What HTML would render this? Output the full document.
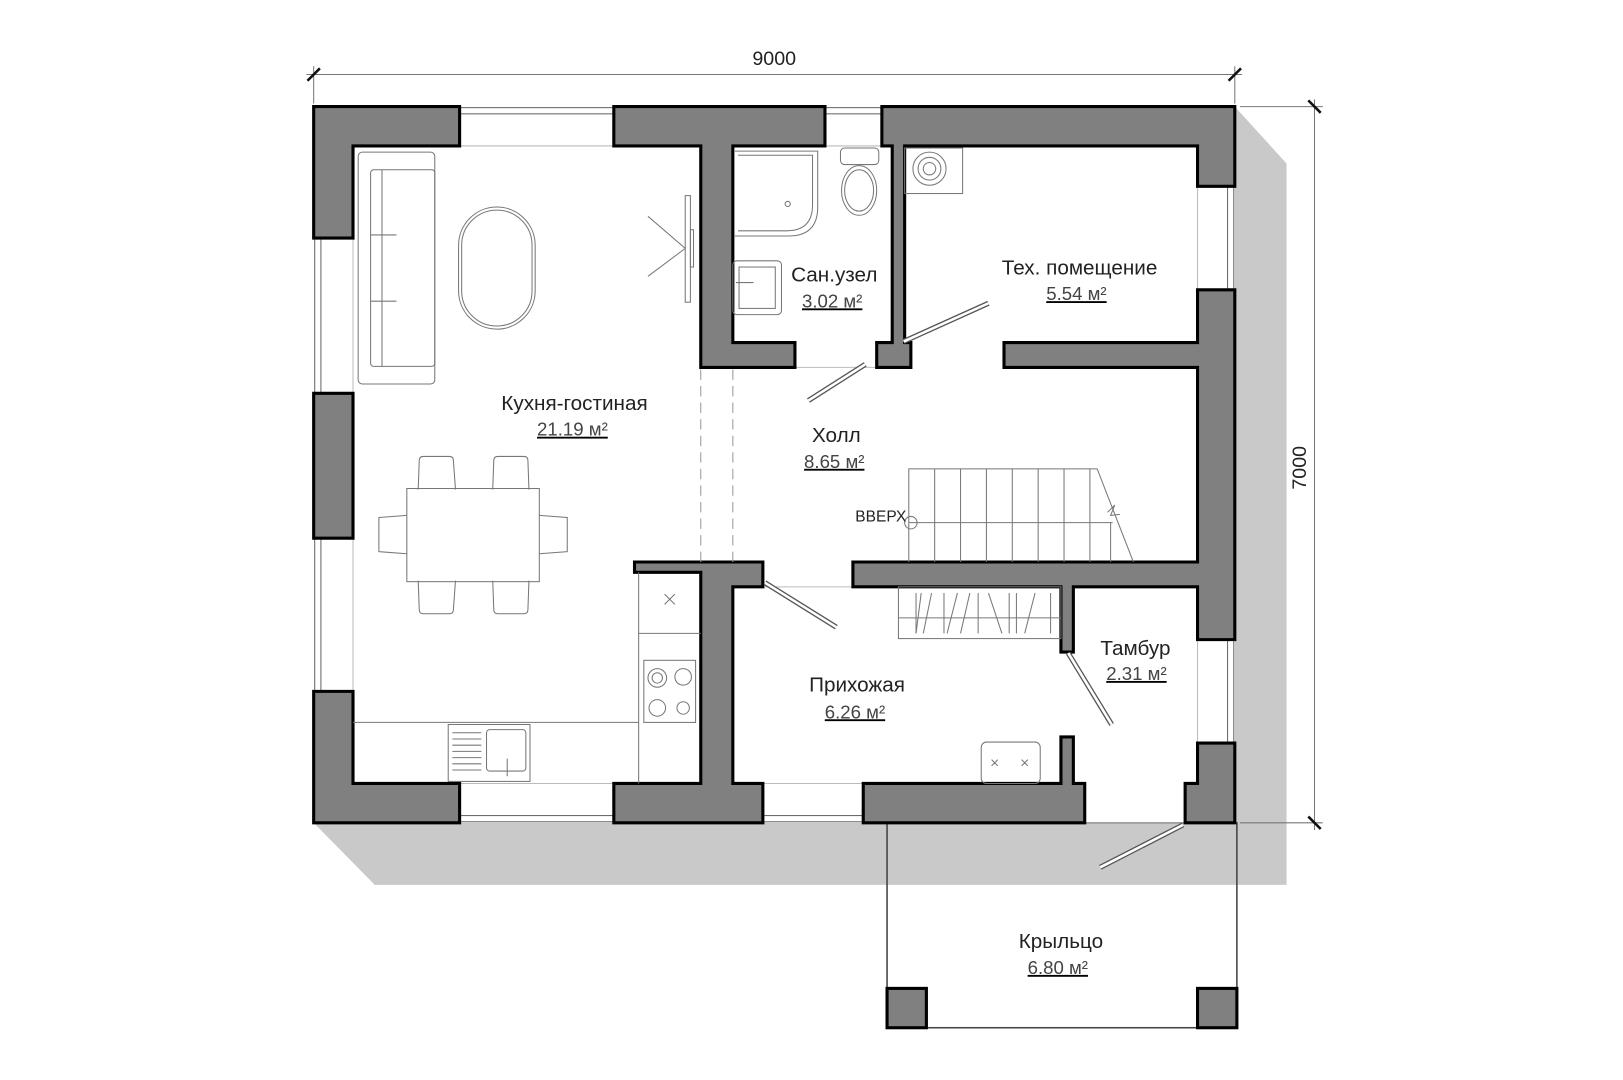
<!DOCTYPE html>
<html><head><meta charset="utf-8"><style>html,body{margin:0;padding:0;background:#fff}svg{display:block}text{font-family:"Liberation Sans",sans-serif;fill:#222}</style></head><body>
<svg width="1623" height="1080" viewBox="0 0 1568 1043.5" xmlns="http://www.w3.org/2000/svg">
<rect width="1568" height="1044" fill="#fff"/>
<polygon points="1193,103 1243,158 1243,855 362,855 303,795" fill="#c9c9c9"/>
<rect x="303" y="103" width="890" height="692" fill="#fff"/>
<rect x="857" y="795" width="338" height="198" fill="none" stroke="#444" stroke-width="1.5"/>
<g stroke="#777" stroke-width="1" fill="none">
<line x1="296" y1="72" x2="1200" y2="72"/>
<line x1="303" y1="64" x2="303" y2="100"/>
<line x1="1193" y1="64" x2="1193" y2="100"/>
<line x1="1270" y1="96" x2="1270" y2="802"/>
<line x1="1198" y1="103" x2="1278" y2="103"/>
<line x1="1198" y1="795" x2="1278" y2="795"/>
</g>
<g stroke="#111" stroke-width="2.5">
<line x1="297" y1="78" x2="309" y2="66"/><line x1="1187" y1="78" x2="1199" y2="66"/>
<line x1="1264" y1="97" x2="1276" y2="109"/><line x1="1264" y1="789" x2="1276" y2="801"/>
</g>
<text x="748" y="63" font-size="19" text-anchor="middle">9000</text>
<text x="0" y="0" font-size="19" text-anchor="middle" transform="translate(1262,452) rotate(-90)">7000</text>
<g stroke="#666" stroke-width="1" fill="#fff">
<rect x="444" y="104" width="149" height="6"/><rect x="797" y="104" width="55" height="6"/>
<rect x="444" y="788" width="149" height="6"/><rect x="737" y="788" width="97" height="6"/>
<rect x="304" y="230" width="6" height="150"/><rect x="304" y="520" width="6" height="148"/>
<rect x="1186" y="180" width="6" height="100"/><rect x="1186" y="618" width="6" height="100"/>
</g>
<g stroke="#bbb" stroke-width="1">
<line x1="444" y1="141" x2="593" y2="141"/><line x1="797" y1="141" x2="852" y2="141"/>
<line x1="444" y1="757" x2="593" y2="757"/><line x1="737" y1="757" x2="834" y2="757"/>
<line x1="341" y1="230" x2="341" y2="380"/><line x1="341" y1="520" x2="341" y2="668"/>
<line x1="1157" y1="180" x2="1157" y2="280"/><line x1="1157" y1="618" x2="1157" y2="718"/>
<line x1="708" y1="355" x2="847" y2="355"/><line x1="737" y1="567" x2="824" y2="567"/>
<line x1="1048" y1="795" x2="1145" y2="795"/>
</g>
<g fill="#808080" stroke="#000" stroke-width="3" stroke-linejoin="miter">
<polygon points="303,103 444,103 444,141 341,141 341,230 303,230"/>
<polygon points="593,103 797,103 797,141 708,141 708,331 768,331 768,355 677,355 677,141 593,141"/>
<polygon points="852,103 1193,103 1193,180 1157,180 1157,141 874,141 874,331 880,331 880,355 847,355 847,331 862,331 862,141 852,141"/>
<polygon points="1157,280 1193,280 1193,618 1157,618 1157,567 1037,567 1037,630 1025,630 1025,567 824,567 824,543 1157,543 1157,355 970,355 970,331 1157,331"/>
<polygon points="1157,718 1193,718 1193,795 1145,795 1145,757 1157,757"/>
<polygon points="303,380 341,380 341,520 303,520"/>
<polygon points="303,668 341,668 341,757 444,757 444,795 303,795"/>
<polygon points="613,543 737,543 737,567 708,567 708,757 737,757 737,795 593,795 593,757 677,757 677,553 613,553"/>
<polygon points="834,757 1025,757 1025,712 1037,712 1037,757 1048,757 1048,795 834,795"/>
<rect x="857" y="955" width="38" height="38"/><rect x="1157" y="955" width="38" height="38"/>
</g>
<g stroke="#999" stroke-width="1" stroke-dasharray="10,6"><line x1="677" y1="357" x2="677" y2="543"/><line x1="708" y1="357" x2="708" y2="543"/></g>
<g fill="none" stroke="#777" stroke-width="1">
<rect x="346" y="147" width="74" height="224" rx="4"/>
<rect x="358" y="164" width="62" height="190" rx="3"/>
<line x1="369" y1="164" x2="369" y2="354"/>
<line x1="358" y1="227" x2="383" y2="227"/><line x1="358" y1="291" x2="383" y2="291"/>
<rect x="443" y="200" width="74" height="118" rx="37"/><rect x="446" y="203" width="68" height="112" rx="34"/>
<rect x="662" y="189" width="5" height="103"/><rect x="667" y="222" width="3" height="36"/>
<line x1="626" y1="209" x2="662" y2="240"/><line x1="626" y1="267" x2="662" y2="240"/>
<rect x="393" y="472" width="128" height="90"/>
<path d="M404 473 L405 445 Q405 441 409 441 L434 441 Q438 441 438 445 L440 473"/>
<path d="M476 473 L477 445 Q477 441 481 441 L506 441 Q510 441 510 445 L511 473"/>
<path d="M404 561 L405 589 Q405 593 409 593 L434 593 Q438 593 438 589 L440 561"/>
<path d="M476 561 L477 589 Q477 593 481 593 L506 593 Q510 593 510 589 L511 561"/>
<path d="M393 498 L366 500 L366 533 L393 535"/>
<path d="M521 498 L548 500 L548 533 L521 535"/>
<line x1="341" y1="698" x2="617" y2="698"/><line x1="617" y1="553" x2="617" y2="757"/>
<line x1="617" y1="612" x2="677" y2="612"/>
<path d="M642 574 L652 584 M652 574 L642 584"/>
<rect x="622" y="638" width="50" height="60"/>
<circle cx="635" cy="655" r="9"/><circle cx="635" cy="655" r="5"/><circle cx="660" cy="654" r="8"/>
<circle cx="635" cy="684" r="8"/><circle cx="660" cy="684" r="6"/>
<rect x="433" y="700" width="79" height="55"/><rect x="470" y="705" width="38" height="40" rx="3"/>
<line x1="437" y1="708" x2="465" y2="708"/><line x1="437" y1="714" x2="465" y2="714"/><line x1="437" y1="720" x2="465" y2="720"/><line x1="437" y1="726" x2="465" y2="726"/><line x1="437" y1="732" x2="465" y2="732"/><line x1="437" y1="738" x2="465" y2="738"/><line x1="437" y1="744" x2="465" y2="744"/>
<line x1="490" y1="733" x2="490" y2="750"/>
<path d="M710 146 L790 146 L790 200 Q790 228 762 228 L710 228"/>
<path d="M713 150 L785 150 L785 198 Q785 223 760 223 L713 223"/>
<circle cx="761" cy="197" r="2.5"/>
<rect x="812" y="143" width="37" height="16" rx="4"/>
<ellipse cx="830" cy="184" rx="17" ry="24"/><ellipse cx="830" cy="184" rx="14" ry="20"/>
<rect x="708" y="252" width="47" height="52" rx="4"/><rect x="714" y="258" width="35" height="40"/>
<line x1="711" y1="273" x2="728" y2="273"/>
<rect x="874" y="143" width="56" height="44"/>
<circle cx="898" cy="163" r="16"/><circle cx="898" cy="163" r="11"/><circle cx="898" cy="163" r="6"/>
<path d="M878 543 L878 453 L1060 453 L1095 543"/>
<line x1="878" y1="505" x2="1075" y2="505"/>
<line x1="903" y1="453" x2="903" y2="543"/><line x1="928" y1="453" x2="928" y2="543"/><line x1="953" y1="453" x2="953" y2="543"/><line x1="978" y1="453" x2="978" y2="543"/><line x1="1003" y1="453" x2="1003" y2="543"/><line x1="1028" y1="453" x2="1028" y2="543"/><line x1="1053" y1="453" x2="1053" y2="543"/><line x1="1073" y1="505" x2="1073" y2="543"/>
<path d="M1070 495 L1077 488 L1073 498 L1082 497"/>
<circle cx="880" cy="505" r="6"/>
<rect x="868" y="567" width="157" height="50"/>
<line x1="868" y1="597" x2="1025" y2="597"/>
<line x1="885" y1="573" x2="885" y2="612"/><line x1="890" y1="573" x2="885" y2="612"/><line x1="900" y1="573" x2="892" y2="612"/><line x1="912" y1="573" x2="912" y2="612"/><line x1="925" y1="573" x2="915" y2="612"/><line x1="937" y1="573" x2="928" y2="612"/><line x1="945" y1="573" x2="945" y2="612"/><line x1="955" y1="573" x2="968" y2="612"/><line x1="975" y1="573" x2="975" y2="612"/><line x1="982" y1="573" x2="982" y2="612"/><line x1="1000" y1="573" x2="990" y2="612"/><line x1="1015" y1="573" x2="1015" y2="612"/>
<rect x="948" y="717" width="57" height="40" rx="5"/>
<path d="M958 734 L964 740 M964 734 L958 740 M987 734 L993 740 M993 734 L987 740"/>
</g>
<g stroke="#555" stroke-width="5" stroke-linecap="butt"><line x1="836" y1="352" x2="781" y2="387"/><line x1="873" y1="330" x2="955" y2="293"/><line x1="739" y1="563" x2="808" y2="606"/><line x1="1032" y1="631" x2="1074" y2="700"/><line x1="1143" y1="797" x2="1063" y2="838"/></g>
<g stroke="#fff" stroke-width="2.5"><line x1="836" y1="352" x2="781" y2="387"/><line x1="873" y1="330" x2="955" y2="293"/><line x1="739" y1="563" x2="808" y2="606"/><line x1="1032" y1="631" x2="1074" y2="700"/><line x1="1143" y1="797" x2="1063" y2="838"/></g>
<g font-size="20" text-anchor="middle">
<text x="555" y="396">Кухня-гостиная</text>
<text x="806" y="272">Сан.узел</text>
<text x="1043" y="265">Тех. помещение</text>
<text x="808" y="427">Холл</text>
<text x="828" y="668">Прихожая</text>
<text x="1097" y="633">Тамбур</text>
<text x="1025" y="916">Крыльцо</text>
</g>
<g font-size="18" text-anchor="middle" text-decoration="underline">
<text x="553" y="421" style="fill:#444">21.19 м²</text>
<text x="804" y="297" style="fill:#444">3.02 м²</text>
<text x="1040" y="290" style="fill:#444">5.54 м²</text>
<text x="806" y="452" style="fill:#444">8.65 м²</text>
<text x="826" y="694" style="fill:#444">6.26 м²</text>
<text x="1098" y="657" style="fill:#444">2.31 м²</text>
<text x="1022" y="941" style="fill:#444">6.80 м²</text>
</g>
<text x="851" y="504" font-size="15" text-anchor="middle">ВВЕРХ</text>
</svg>
</body></html>
